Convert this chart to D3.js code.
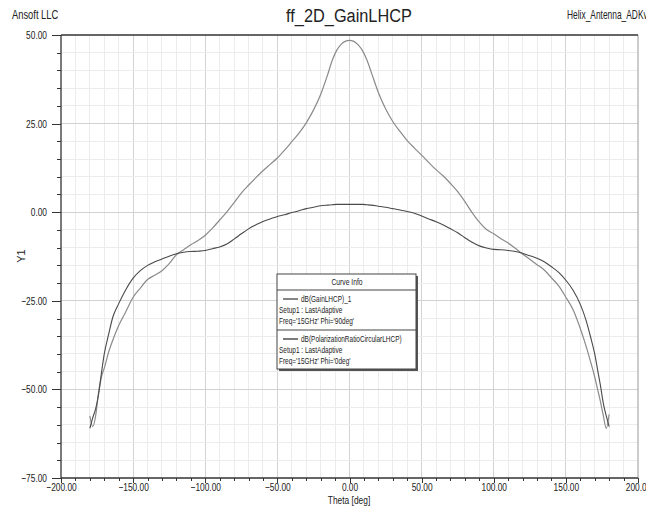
<!DOCTYPE html>
<meta charset="utf-8">
<style>
body { margin: 0; background: #fff; }
text { font-family: "Liberation Sans", Arial, sans-serif; fill: #222; }
.grid line { shape-rendering: crispEdges; }
.axis path { display: none; }
.axis line { stroke: #333; shape-rendering: crispEdges; }
</style>
<svg width="646" height="508"></svg>
<script src="https://d3js.org/d3.v7.min.js"></script>
<script>

// theta samples [deg]
var theta = [-180,-178,-176,-174,-172,-170,-167,-164,-160,-155,-150,-145,-140,-135,-130,-125,-120,-115,-110,-105,-100,-95,-90,-85,-80,-75,-70,-65,-60,-55,-50,-45,-40,-35,-30,-25,-20,-15,-12,-9,-6,-3,
  0,3,6,9,12,15,20,25,30,35,40,45,50,55,60,65,70,75,80,85,90,95,100,105,110,115,120,125,130,135,140,145,150,155,160,164,167,170,172,174,176,178,180];

// dB(GainLHCP)_1, Phi='90deg'
var gainLHCP = [-57.5,-60.5,-57.5,-51.0,-46.5,-44.0,-39.5,-36.0,-32.0,-28.0,-24.0,-21.4,-19.0,-17.8,-16.5,-14.5,-12.0,-10.6,-9.2,-8.0,-6.5,-4.5,-2.2,0.1,2.7,5.4,7.6,9.7,11.7,13.5,15.3,17.5,19.9,22.3,25.2,28.8,33.2,39.0,42.8,45.6,47.3,48.2,
  48.5,48.2,47.2,45.6,43.0,39.6,33.8,29.2,25.6,22.8,20.2,18.1,16.1,14.0,12.0,10.2,8.1,5.8,3.0,-0.1,-2.8,-4.9,-6.1,-7.5,-8.7,-10.2,-11.8,-13.3,-14.8,-16.3,-18.5,-20.8,-24.0,-27.5,-32.8,-37.8,-42.0,-46.5,-50.0,-53.5,-57.5,-61.0,-57.0];

// dB(PolarizationRatioCircularLHCP), Phi='0deg'
var polRatio = [-61.0,-58.0,-55.5,-51.5,-45.5,-40.0,-34.5,-29.5,-25.8,-21.8,-18.6,-16.5,-15.0,-14.0,-13.2,-12.4,-11.7,-11.3,-11.1,-11.0,-10.8,-10.3,-9.8,-9.0,-7.6,-6.1,-4.7,-3.6,-2.6,-1.9,-1.2,-0.7,-0.1,0.4,1.0,1.4,1.8,2.0,2.1,2.2,2.2,2.2,
  2.2,2.2,2.2,2.2,2.1,2.0,1.7,1.4,1.0,0.6,0.2,-0.3,-1.1,-1.9,-2.7,-3.6,-4.7,-5.8,-7.2,-8.5,-9.5,-10.1,-10.5,-10.6,-10.8,-11.1,-11.6,-12.3,-13.0,-14.0,-15.4,-17.0,-19.2,-22.0,-26.0,-30.5,-35.0,-40.0,-44.5,-49.0,-54.0,-57.5,-60.5];

var xTicks = [-200,-150,-100,-50,0,50,100,150,200];
var yTicks = [50,25,0,-25,-50,-75];

var svg = d3.select("svg");

var x = d3.scaleLinear().domain([-200, 200]).range([61, 638]);
var y = d3.scaleLinear().domain([-75, 50]).range([478, 35]);

// squeeze text horizontally (the original uses a narrow face)
function narrow(sel, k) {
  sel.each(function() {
    var t = d3.select(this);
    var tx = +t.attr("x") || 0, ty = +t.attr("y") || 0;
    t.attr("x", null).attr("y", null)
     .attr("transform", "translate(" + tx + "," + ty + ") scale(" + k + ",1)");
  });
}

// grid
var grid = svg.append("g").attr("class", "grid");
grid.selectAll("line.vx")
  .data(d3.range(-190, 200, 10))
  .enter().append("line")
    .attr("x1", function(d) { return x(d); }).attr("x2", function(d) { return x(d); })
    .attr("y1", y(50)).attr("y2", y(-75))
    .attr("stroke", function(d) { return d % 50 === 0 ? "#d2d2d2" : "#ececec"; });
grid.selectAll("line.hy")
  .data(d3.range(-70, 50, 5))
  .enter().append("line")
    .attr("x1", x(-200)).attr("x2", x(200))
    .attr("y1", function(d) { return y(d); }).attr("y2", function(d) { return y(d); })
    .attr("stroke", function(d) { return d % 25 === 0 ? "#d2d2d2" : "#ececec"; });

// frame
svg.append("line").attr("x1", x(200)).attr("x2", x(200)).attr("y1", y(50)).attr("y2", y(-75)).attr("stroke", "#999");
svg.append("line").attr("x1", x(-200)).attr("x2", x(200)).attr("y1", y(50)).attr("y2", y(50)).attr("stroke", "#333").attr("stroke-width", 1.3);
svg.append("line").attr("x1", x(-200)).attr("x2", x(200)).attr("y1", y(-75)).attr("y2", y(-75)).attr("stroke", "#333").attr("stroke-width", 1.3);
svg.append("line").attr("x1", x(-200)).attr("x2", x(-200)).attr("y1", y(50)).attr("y2", y(-75)).attr("stroke", "#333").attr("stroke-width", 1.3);

// axes
svg.append("g").attr("class", "axis").attr("transform", "translate(0," + y(-75) + ")")
  .call(d3.axisBottom(x).tickValues(d3.range(-190, 200, 10)).tickSize(3).tickFormat(""));
var xAxis = svg.append("g").attr("class", "axis").attr("transform", "translate(0," + y(-75) + ")")
  .call(d3.axisBottom(x).tickValues(xTicks).tickSize(5).tickPadding(0).tickFormat(d3.format(".2f")));
xAxis.selectAll("text").style("font-size", "11px").attr("fill", "#222").call(narrow, 0.76);

svg.append("g").attr("class", "axis").attr("transform", "translate(" + x(-200) + ",0)")
  .call(d3.axisLeft(y).tickValues(d3.range(-70, 50, 5).filter(function(d) { return d % 25 !== 0; })).tickSize(4).tickFormat(""));
var yAxis = svg.append("g").attr("class", "axis").attr("transform", "translate(" + x(-200) + ",0)")
  .call(d3.axisLeft(y).tickValues(yTicks).tickSize(9).tickPadding(5).tickFormat(d3.format(".2f")));
yAxis.selectAll("text").style("font-size", "11px").attr("fill", "#222").call(narrow, 0.76);

// curves
var line = d3.line()
  .x(function(d) { return x(d[0]); })
  .y(function(d) { return y(d[1]); })
  .curve(d3.curveMonotoneX);

svg.append("path")
  .datum(d3.zip(theta, gainLHCP))
  .attr("d", line).attr("fill", "none").attr("stroke", "#8a8a8a").attr("stroke-width", 1.2);
svg.append("path")
  .datum(d3.zip(theta, polRatio))
  .attr("d", line).attr("fill", "none").attr("stroke", "#4a4a4a").attr("stroke-width", 1.1);

// titles
svg.append("text").attr("x", 349).attr("y", 22).attr("text-anchor", "middle").style("font-size", "19px").text("ff_2D_GainLHCP").call(narrow, 0.86);
svg.append("text").attr("x", 12).attr("y", 19).style("font-size", "12px").text("Ansoft LLC").call(narrow, 0.78);
svg.append("text").attr("x", 567).attr("y", 19).style("font-size", "12px").text("Helix_Antenna_ADKv1").call(narrow, 0.7);
svg.append("text").attr("x", 349).attr("y", 503.5).attr("text-anchor", "middle").style("font-size", "10.5px").text("Theta [deg]").call(narrow, 0.8);
svg.append("text").attr("transform", "translate(25,256) rotate(-90)").attr("text-anchor", "middle").style("font-size", "11px").text("Y1");

// legend
var lg = svg.append("g").attr("transform", "translate(277,274)");
lg.append("rect").attr("x", 2).attr("y", 2).attr("width", 139).attr("height", 95).attr("fill", "#555");
lg.append("rect").attr("width", 139).attr("height", 95).attr("fill", "#fff").attr("stroke", "#444");
lg.append("text").attr("x", 70).attr("y", 11).attr("text-anchor", "middle").style("font-size", "9px").text("Curve Info").call(narrow, 0.75);
lg.append("line").attr("x1", 0).attr("x2", 139).attr("y1", 16).attr("y2", 16).attr("stroke", "#444");
lg.append("line").attr("x1", 0).attr("x2", 139).attr("y1", 56).attr("y2", 56).attr("stroke", "#444");

var entries = [
  { name: "dB(GainLHCP)_1", setup: "Setup1 : LastAdaptive", vars: "Freq='15GHz' Phi='90deg'", color: "#333" },
  { name: "dB(PolarizationRatioCircularLHCP)", setup: "Setup1 : LastAdaptive", vars: "Freq='15GHz' Phi='0deg'", color: "#222" }
];
entries.forEach(function(e, i) {
  var oy = 25 + i * 40;
  lg.append("line").attr("x1", 6).attr("x2", 21).attr("y1", oy).attr("y2", oy).attr("stroke", e.color).attr("stroke-width", 1.2);
  lg.append("text").attr("x", 24).attr("y", oy + 3).style("font-size", "9px").text(e.name).call(narrow, 0.72);
  lg.append("text").attr("x", 2).attr("y", oy + 14).style("font-size", "9px").text(e.setup).call(narrow, 0.72);
  lg.append("text").attr("x", 2).attr("y", oy + 25).style("font-size", "9px").text(e.vars).call(narrow, 0.72);
});

</script>
